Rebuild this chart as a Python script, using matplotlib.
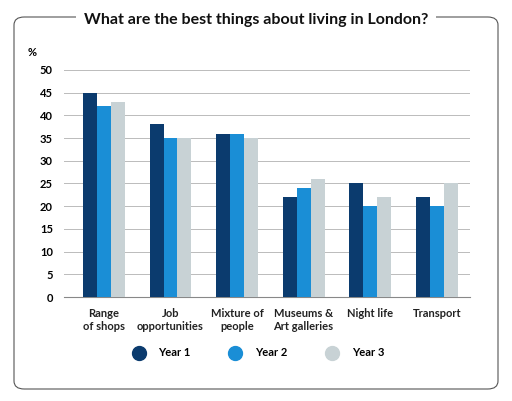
import numpy as np
import matplotlib.pyplot as plt
from matplotlib.patches import FancyBboxPatch
from matplotlib.lines import Line2D

categories = ["Range\nof shops", "Job\nopportunities", "Mixture of\npeople",
              "Museums &\nArt galleries", "Night life", "Transport"]
year1 = [45, 38, 36, 22, 25, 22]
year2 = [42, 35, 36, 24, 20, 20]
year3 = [43, 35, 35, 26, 22, 25]
series = ["Year 1", "Year 2", "Year 3"]
colors = ['#0b3b6e', '#1a8ed6', '#c8d2d5']

plt.rcParams['font.family'] = ['Lato', 'DejaVu Sans']

fig = plt.figure(figsize=(5.12, 4.01), dpi=100)
# rounded frame
fig.patches.append(FancyBboxPatch((14/512, 12/401), 484/512, 372/401,
                                  boxstyle="round,pad=0,rounding_size=0.02",
                                  transform=fig.transFigure, fill=False,
                                  edgecolor='#555555', linewidth=0.8))
fig.text(0.5, 1 - 20/401, "What are the best things about living in London?",
         ha='center', va='center', fontsize=11.5, fontweight='bold', color='#111111',
         bbox=dict(facecolor='white', edgecolor='none', pad=6))

ax = fig.add_axes([64/512, 1 - 297/401, 406/512, 227/401])
x = np.arange(len(categories))
w = 0.21
for i, (vals, c) in enumerate(zip([year1, year2, year3], colors)):
    ax.bar(x + (i - 1) * w, vals, w, color=c, zorder=3)

ax.set_ylim(0, 50)
ax.set_xlim(-0.6, len(categories) - 0.5)
ax.set_yticks(range(0, 51, 5))
ax.yaxis.grid(True, color='#bbbbbb', linewidth=0.7, zorder=0)
ax.set_xticks(x)
ax.set_xticklabels(categories, fontsize=7.5, fontweight='bold', color='#222222')
ax.tick_params(axis='both', length=0, labelsize=8, pad=8)
for lbl in ax.get_yticklabels():
    lbl.set_fontweight('bold')
for s in ['top', 'right', 'left']:
    ax.spines[s].set_visible(False)
ax.spines['bottom'].set_color('#888888')
ax.text(-0.09, 1.06, "%", transform=ax.transAxes, fontsize=8, fontweight='bold')

handles = [Line2D([], [], marker='o', linestyle='', markersize=10, color=c) for c in colors]
fig.legend(handles, series, loc='center', bbox_to_anchor=(0.5, 1 - 353/401), ncol=3,
           frameon=False, prop={'size': 8, 'weight': 'bold'}, columnspacing=3, handletextpad=0.8)

plt.savefig('out.png', dpi=100)
